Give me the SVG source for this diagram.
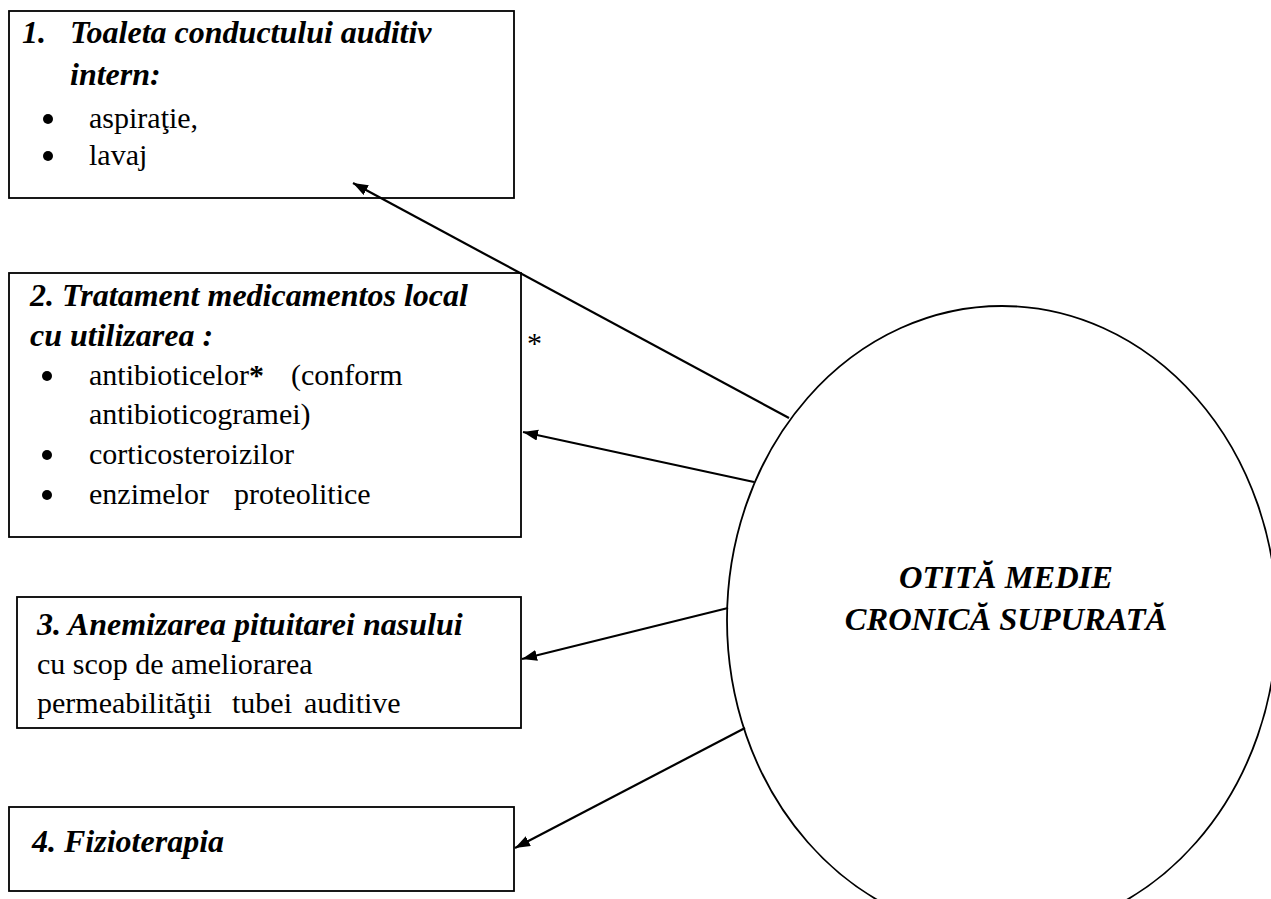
<svg xmlns="http://www.w3.org/2000/svg" width="1271" height="899" viewBox="0 0 1271 899">
<style>
.box{fill:#fff;stroke:#000;stroke-width:1.8}
.t{font-family:"Liberation Serif","Times New Roman",serif;font-size:30px;fill:#000}
.bi{font-weight:bold;font-style:italic;font-size:32px}
.big{font-family:"Liberation Serif","Times New Roman",serif;font-size:32.5px;font-weight:bold;font-style:italic;fill:#000}
.conn{stroke:#000;stroke-width:2.2;fill:none;marker-end:url(#ah)}
.dot{fill:#000}
</style>
<defs>
<marker id="ah" markerUnits="userSpaceOnUse" markerWidth="18" markerHeight="12" refX="15" refY="5.5" orient="auto">
<path d="M0,0 L15,5.5 L0,11 z" fill="#000"/>
</marker>
</defs>
<rect width="1271" height="899" fill="#fff"/>
<g id="center">
<ellipse cx="1002" cy="620" rx="275" ry="314" fill="#fff" stroke="#000" stroke-width="1.8"/>
<text class="big" x="1006" y="588" text-anchor="middle">OTITĂ MEDIE</text>
<text class="big" x="1006" y="630" text-anchor="middle">CRONICĂ SUPURATĂ</text>
</g>
<g id="node1">
<rect class="box" x="9" y="11" width="505" height="187"/>
<text class="t bi" x="22" y="43">1.</text>
<text class="t bi" x="70" y="43">Toaleta conductului auditiv</text>
<text class="t bi" x="70" y="85">intern:</text>
<circle class="dot" cx="48" cy="119" r="5"/>
<text class="t" x="89" y="128">aspiraţie,</text>
<circle class="dot" cx="48" cy="156" r="5"/>
<text class="t" x="89" y="165">lavaj</text>
</g>
<g id="node2">
<rect class="box" x="9" y="273" width="512" height="264"/>
<text class="t bi" x="30" y="306">2. Tratament medicamentos local</text>
<text class="t bi" x="30" y="346">cu utilizarea :</text>
<circle class="dot" cx="47" cy="376" r="5"/>
<text class="t" x="89" y="385">antibioticelor<tspan font-weight="bold">*</tspan><tspan x="291">(conform</tspan></text>
<text class="t" x="89" y="424">antibioticogramei)</text>
<circle class="dot" cx="47" cy="455" r="5"/>
<text class="t" x="89" y="464">corticosteroizilor</text>
<circle class="dot" cx="47" cy="495" r="5"/>
<text class="t" x="89" y="504">enzimelor<tspan x="234">proteolitice</tspan></text>
</g>
<text id="asterisk" class="t" x="527" y="353">*</text>
<g id="node3">
<rect class="box" x="17" y="597" width="504" height="131"/>
<text class="t bi" x="37" y="635">3. Anemizarea pituitarei nasului</text>
<text class="t" x="37" y="674">cu scop de ameliorarea</text>
<text class="t" x="37" y="713">permeabilităţii<tspan x="232">tubei</tspan><tspan x="304">auditive</tspan></text>
</g>
<g id="node4">
<rect class="box" x="9" y="807" width="505" height="84"/>
<text class="t bi" x="32" y="852">4. Fizioterapia</text>
</g>
<g id="connectors">
<line class="conn" x1="789" y1="418" x2="353" y2="183"/>
<line class="conn" x1="754" y1="482" x2="523" y2="432"/>
<line class="conn" x1="728" y1="608" x2="522" y2="659"/>
<line class="conn" x1="745" y1="728" x2="515" y2="848"/>
</g>
</svg>
